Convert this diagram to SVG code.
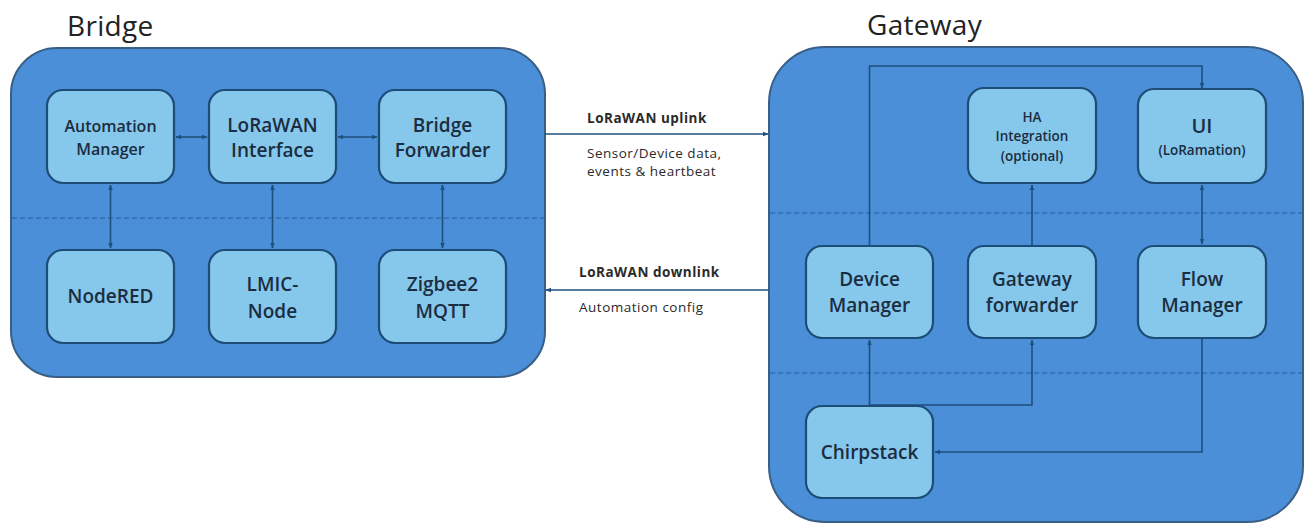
<svg xmlns="http://www.w3.org/2000/svg" width="1307" height="530" viewBox="0 0 1307 530">
<defs>
<style>
.cont{fill:#4a8fd8;stroke:#3a5f85;stroke-width:2}
.box{fill:#86c7ec;stroke:#1d4c76;stroke-width:2.2}
.dash{stroke:#2f6fb5;stroke-width:1.6;stroke-dasharray:5 3;fill:none}
.ln{stroke:#1f4f7c;stroke-width:1.6;fill:none}
.t{font-family:"Open Sans","Liberation Sans",sans-serif;font-weight:600;fill:#1b2d40;text-anchor:middle}
.title{font-family:"Open Sans","Liberation Sans",sans-serif;font-weight:500;font-size:28px;fill:#222;letter-spacing:0.3px}
.lab{font-family:"Open Sans","Liberation Sans",sans-serif;fill:#2a2a2a;letter-spacing:0.5px}
</style>
<marker id="ah" viewBox="0 0 10 10" refX="9" refY="5" markerWidth="6" markerHeight="6" orient="auto-start-reverse" markerUnits="userSpaceOnUse">
<path d="M0,1 L10,5 L0,9 z" fill="#1f4f7c"/>
</marker>
</defs>
<rect width="1307" height="530" fill="#ffffff"/>

<g id="bridge">
<text class="title" x="67" y="36">Bridge</text>
<rect class="cont" x="11" y="48" width="534" height="329" rx="46"/>
<line class="dash" x1="12" y1="218" x2="544" y2="218"/>
</g>

<g id="gateway">
<text class="title" x="867" y="35">Gateway</text>
<rect class="cont" x="769" y="47" width="534" height="475" rx="56"/>
<line class="dash" x1="770" y1="213" x2="1302" y2="213"/>
<line class="dash" x1="770" y1="373" x2="1302" y2="373"/>
</g>

<g id="connectors">
<line class="ln" x1="176" y1="137" x2="207" y2="137" marker-start="url(#ah)" marker-end="url(#ah)"/>
<line class="ln" x1="338" y1="137" x2="377" y2="137" marker-start="url(#ah)" marker-end="url(#ah)"/>
<line class="ln" x1="110.5" y1="185" x2="110.5" y2="248" marker-start="url(#ah)" marker-end="url(#ah)"/>
<line class="ln" x1="272.5" y1="185" x2="272.5" y2="248" marker-start="url(#ah)" marker-end="url(#ah)"/>
<line class="ln" x1="442.5" y1="185" x2="442.5" y2="248" marker-start="url(#ah)" marker-end="url(#ah)"/>
<line class="ln" x1="545" y1="134" x2="768" y2="134" marker-end="url(#ah)"/>
<line class="ln" x1="769" y1="290" x2="546" y2="290" marker-end="url(#ah)"/>
<path class="ln" d="M869.5,246 V66 H1202 V88" marker-end="url(#ah)"/>
<line class="ln" x1="1032" y1="246" x2="1032" y2="185" marker-end="url(#ah)"/>
<line class="ln" x1="1202" y1="185" x2="1202" y2="244" marker-start="url(#ah)" marker-end="url(#ah)"/>
<line class="ln" x1="869.5" y1="406" x2="869.5" y2="340" marker-end="url(#ah)"/>
<path class="ln" d="M869.5,405 H1032 V340" marker-end="url(#ah)"/>
<path class="ln" d="M1202,338 V452 H935" marker-end="url(#ah)"/>
</g>

<g id="link-labels">
<text class="lab" x="587" y="123" font-size="13.5" font-weight="700">LoRaWAN uplink</text>
<text class="lab" x="587" y="158" font-size="13.5">Sensor/Device data,</text>
<text class="lab" x="587" y="176" font-size="13.5">events &amp; heartbeat</text>
<text class="lab" x="579" y="277" font-size="13.5" font-weight="700">LoRaWAN downlink</text>
<text class="lab" x="579" y="312" font-size="13.5">Automation config</text>
</g>

<g id="automation-manager">
<rect class="box" x="47" y="90" width="127" height="93" rx="16"/>
<text class="t" font-size="16" x="110.5" y="132">Automation</text>
<text class="t" font-size="16" x="110.5" y="155">Manager</text>
</g>
<g id="lorawan-interface">
<rect class="box" x="209" y="90" width="127" height="93" rx="16"/>
<text class="t" font-size="19" x="272.5" y="132">LoRaWAN</text>
<text class="t" font-size="19" x="272.5" y="157">Interface</text>
</g>
<g id="bridge-forwarder">
<rect class="box" x="379" y="90" width="127" height="93" rx="16"/>
<text class="t" font-size="19" x="442.5" y="132">Bridge</text>
<text class="t" font-size="19" x="442.5" y="157">Forwarder</text>
</g>
<g id="nodered">
<rect class="box" x="47" y="250" width="127" height="93" rx="16"/>
<text class="t" font-size="19" x="110.5" y="303">NodeRED</text>
</g>
<g id="lmic-node">
<rect class="box" x="209" y="250" width="127" height="93" rx="16"/>
<text class="t" font-size="19" x="272.5" y="291">LMIC-</text>
<text class="t" font-size="19" x="272.5" y="318">Node</text>
</g>
<g id="zigbee2mqtt">
<rect class="box" x="379" y="250" width="127" height="93" rx="16"/>
<text class="t" font-size="19" x="442.5" y="291">Zigbee2</text>
<text class="t" font-size="19" x="442.5" y="318">MQTT</text>
</g>

<g id="ha-integration">
<rect class="box" x="968" y="88" width="128" height="95" rx="16"/>
<text class="t" font-size="13.5" x="1032" y="122">HA</text>
<text class="t" font-size="13.5" x="1032" y="141">Integration</text>
<text class="t" font-size="13.5" x="1032" y="161">(optional)</text>
</g>
<g id="ui">
<rect class="box" x="1138" y="89" width="128" height="94" rx="16"/>
<text class="t" font-size="20" x="1202" y="133">UI</text>
<text class="t" font-size="13.5" x="1202" y="155">(LoRamation)</text>
</g>
<g id="device-manager">
<rect class="box" x="806" y="246" width="127" height="92" rx="16"/>
<text class="t" font-size="19" x="869.5" y="286">Device</text>
<text class="t" font-size="19" x="869.5" y="312">Manager</text>
</g>
<g id="gateway-forwarder">
<rect class="box" x="968" y="246" width="128" height="92" rx="16"/>
<text class="t" font-size="19" x="1032" y="286">Gateway</text>
<text class="t" font-size="19" x="1032" y="312">forwarder</text>
</g>
<g id="flow-manager">
<rect class="box" x="1138" y="246" width="128" height="92" rx="16"/>
<text class="t" font-size="19" x="1202" y="286">Flow</text>
<text class="t" font-size="19" x="1202" y="312">Manager</text>
</g>
<g id="chirpstack">
<rect class="box" x="806" y="406" width="127" height="92" rx="16"/>
<text class="t" font-size="19" x="869.5" y="459">Chirpstack</text>
</g>
</svg>
